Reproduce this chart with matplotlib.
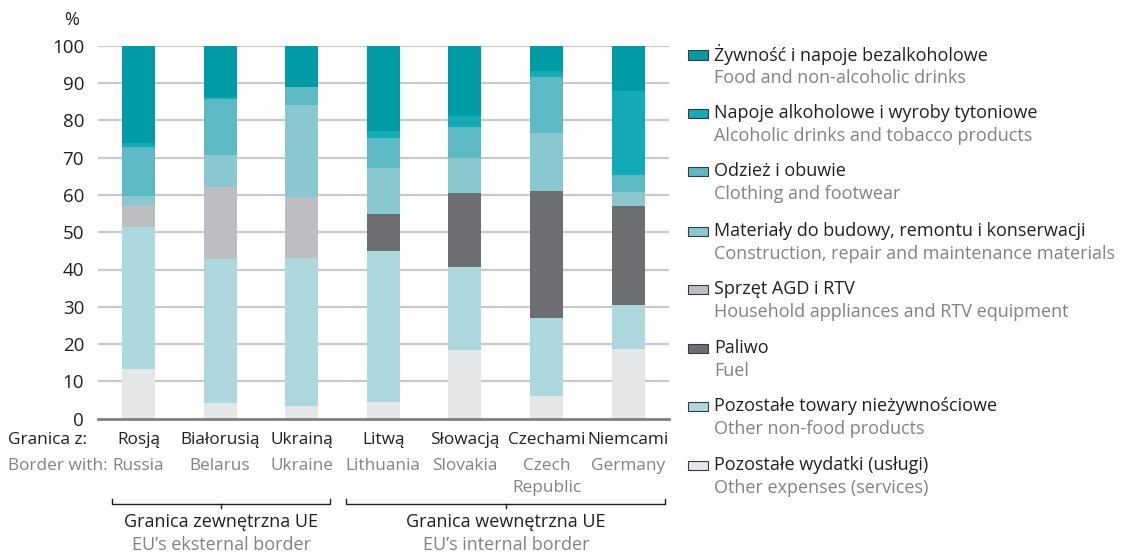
import matplotlib
matplotlib.use("Agg")
import matplotlib.pyplot as plt
from matplotlib.patches import Rectangle
from matplotlib.lines import Line2D
import matplotlib.transforms as mtransforms
import numpy as np

plt.rcParams['font.family'] = ['Open Sans', 'DejaVu Sans']

countries_pl = ["Rosją", "Białorusią", "Ukrainą", "Litwą", "Słowacją", "Czechami", "Niemcami"]
countries_en = ["Russia", "Belarus", "Ukraine", "Lithuania", "Slovakia", "Czech\nRepublic", "Germany"]

# stacked from bottom to top
services   = [13.3, 4.2, 3.4, 4.5, 18.4, 6.1, 18.7]
nonfood    = [38.1, 38.6, 39.7, 40.4, 22.3, 20.9, 11.8]
agd_rtv    = [5.9, 19.3, 16.3, 0.0, 0.0, 0.0, 0.0]
fuel       = [0.0, 0.0, 0.0, 10.0, 19.8, 34.0, 26.5]
materials  = [2.4, 8.6, 24.7, 12.3, 9.4, 15.6, 3.8]
clothing   = [13.1, 15.0, 4.8, 8.0, 8.3, 15.0, 4.5]
alcohol    = [1.1, 0.5, 0.0, 1.9, 2.9, 1.6, 22.5]
food       = [26.1, 13.8, 11.1, 22.9, 18.9, 6.8, 12.2]

c_services, c_nonfood, c_agd, c_fuel = "#e5e6e8", "#add8de", "#bcbec2", "#6d6e71"
c_materials, c_clothing, c_alcohol, c_food = "#8ac8d0", "#5db9c4", "#12abb7", "#009ca6"

series = [services, nonfood, agd_rtv, fuel, materials, clothing, alcohol, food]
colors = [c_services, c_nonfood, c_agd, c_fuel, c_materials, c_clothing, c_alcohol, c_food]

legend_pl = ["Żywność i napoje bezalkoholowe", "Napoje alkoholowe i wyroby tytoniowe",
             "Odzież i obuwie", "Materiały do budowy, remontu i konserwacji",
             "Sprzęt AGD i RTV", "Paliwo", "Pozostałe towary nieżywnościowe",
             "Pozostałe wydatki (usługi)"]
legend_en = ["Food and non-alcoholic drinks", "Alcoholic drinks and tobacco products",
             "Clothing and footwear", "Construction, repair and maintenance materials",
             "Household appliances and RTV equipment", "Fuel", "Other non-food products",
             "Other expenses (services)"]
legend_colors = [c_food, c_alcohol, c_clothing, c_materials, c_agd, c_fuel, c_nonfood, c_services]

yticks = [0, 10, 20, 30, 40, 50, 60, 70, 80, 90, 100]

W, H = 1128, 554
fig = plt.figure(figsize=(W / 100, H / 100), dpi=100)

def fx(px):
    return px / W

def fy(py):
    return 1 - py / H

ax_left, ax_right, ax_top, ax_bot = 98, 669, 45.7, 418.7
ax = fig.add_axes([fx(ax_left), fy(ax_bot), fx(ax_right - ax_left), (ax_bot - ax_top) / H])

x = np.arange(len(countries_pl))
bottom = np.zeros(len(x))
for vals, c in zip(series, colors):
    ax.bar(x, vals, width=0.404, bottom=bottom, color=c, zorder=3, linewidth=0)
    bottom += np.array(vals)

ax.set_ylim(0, 100)
ax.set_xlim(-0.495, 6.5)
ax.set_yticks(yticks)
ax.set_yticklabels([str(t) for t in yticks])
ax.tick_params(axis='y', length=0, pad=10, labelsize=13.5, labelcolor="#231f20")
ax.set_xticks([])
for s in ["top", "right", "left"]:
    ax.spines[s].set_visible(False)
ax.spines["bottom"].set_color("#808080")
ax.spines["bottom"].set_linewidth(2)
ax.spines["bottom"].set_zorder(4)
for t in yticks[1:]:
    ax.axhline(t, color="#c9c9c9", linewidth=1.6, zorder=1)

dark = "#231f20"
grey = "#808285"
fs = 13
fsb = 12.4

fig.text(fx(72), fy(20), "%", ha="center", va="center", fontsize=fs, color=dark)

trans = mtransforms.blended_transform_factory(ax.transData, fig.transFigure)
for i in range(len(x)):
    ax.text(x[i], fy(440), countries_pl[i], ha="center", va="center", fontsize=fsb,
            color=dark, transform=trans)
    ax.text(x[i], fy(458), countries_en[i], ha="center", va="top", fontsize=fsb,
            color=grey, transform=trans, linespacing=1.5)

fig.text(fx(8), fy(440), "Granica z:", ha="left", va="center", fontsize=fsb, color=dark)
fig.text(fx(8), fy(458), "Border with:", ha="left", va="top", fontsize=fsb, color=grey)

def bracket(x0, x1, y):
    lc = "#231f20"
    lw = 1.0
    xm = (x0 + x1) / 2
    fig.add_artist(Line2D([fx(x0), fx(x0), fx(x1), fx(x1)], [fy(y - 5), fy(y), fy(y), fy(y - 5)],
                          color=lc, linewidth=lw))
    fig.add_artist(Line2D([fx(xm), fx(xm)], [fy(y), fy(y + 4)], color=lc, linewidth=lw))

bracket(112, 330, 504)
bracket(346, 665, 504)
fig.text(fx(221), fy(522), "Granica zewnętrzna UE", ha="center", va="center", fontsize=fs, color=dark)
fig.text(fx(221), fy(545), "EU’s eksternal border", ha="center", va="center", fontsize=fs, color=grey)
fig.text(fx(506), fy(522), "Granica wewnętrzna UE", ha="center", va="center", fontsize=fs, color=dark)
fig.text(fx(506), fy(545), "EU’s internal border", ha="center", va="center", fontsize=fs, color=grey)

ys = [55, 113, 171, 231, 289, 348, 406, 465]
for yy, pl, en, c in zip(ys, legend_pl, legend_en, legend_colors):
    fig.add_artist(Rectangle((fx(688), fy(yy + 4.5)), fx(20), 9 / H, facecolor=c,
                             edgecolor="#3a3a3a", linewidth=0.8))
    fig.text(fx(714), fy(yy), pl, ha="left", va="center", fontsize=fs, color=dark)
    fig.text(fx(714), fy(yy + 23), en, ha="left", va="center", fontsize=fs, color=grey)

fig.savefig("out.png", dpi=100)
